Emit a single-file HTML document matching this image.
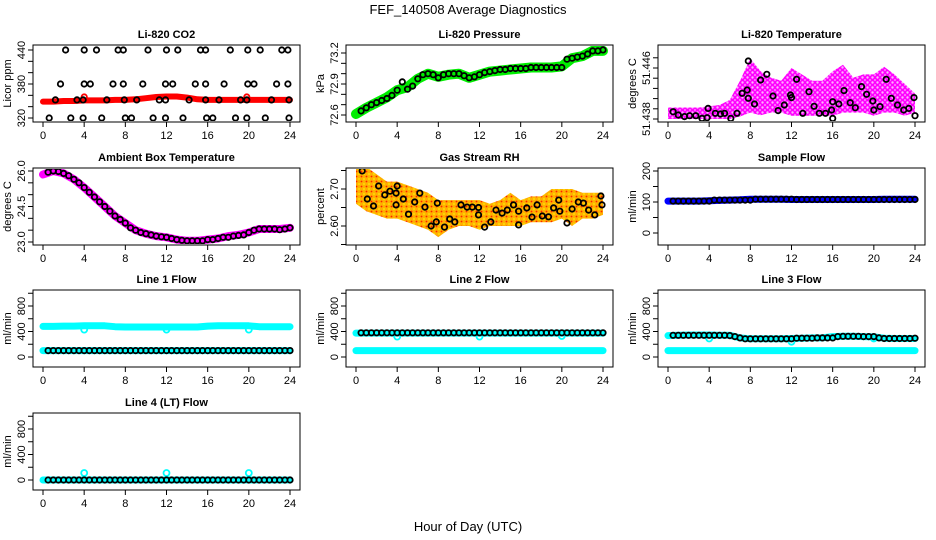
<!DOCTYPE html>
<html><head><meta charset="utf-8">
<style>
html,body{margin:0;padding:0;background:#fff;}
svg{display:block;font-family:"Liberation Sans",sans-serif;}
</style></head>
<body>
<svg id="fig" width="936" height="540" viewBox="0 0 936 540" xmlns="http://www.w3.org/2000/svg">
<defs>
<pattern id="magPat" width="5" height="5" patternUnits="userSpaceOnUse">
<rect width="5" height="5" fill="#ffb0ff"/>
<circle cx="2.5" cy="2.5" r="2" fill="none" stroke="#ff00ff" stroke-width="1.6"/>
</pattern>
<pattern id="rhPat" width="5" height="5" patternUnits="userSpaceOnUse">
<rect width="5" height="5" fill="#ffb000"/>
<circle cx="1.5" cy="1.5" r="0.9" fill="#ff2000"/>
<circle cx="4" cy="4" r="1" fill="#ffe000"/>
</pattern>
</defs>
<text x="468" y="14" text-anchor="middle" font-size="13">FEF_140508  Average Diagnostics</text>
<text x="468" y="531" text-anchor="middle" font-size="13">Hour of Day (UTC)</text>
</svg>
<script>
// ---------- shared data ----------
const xTicks = [0,4,8,12,16,20,24];
const hours = [0,1,2,3,4,5,6,7,8,9,10,11,12,13,14,15,16,17,18,19,20,21,22,23,24];
const halfHours = [0.5,1,1.5,2,2.5,3,3.5,4,4.5,5,5.5,6,6.5,7,7.5,8,8.5,9,9.5,10,10.5,11,11.5,12,12.5,13,13.5,14,14.5,15,15.5,16,16.5,17,17.5,18,18.5,19,19.5,20,20.5,21,21.5,22,22.5,23,23.5,24];

// CO2
const co2Band = [349,349,350,350,351,351,351,352,352,353,355,357,358,358,356,353,352,352,352,352,352,352,352,352,352];
const co2PtsT = [1.2,3.3,3.9,6.2,7.9,9.1,11.3,11.9,14.2,15.8,17.1,19.2,19.8,22.2,23.9, 2.2,4.0,5.2,7.3,7.8,10.2,12.0,13.1,15.3,15.8,18.2,19.9,21.1,23.2,23.8, 1.7,4.0,4.6,6.8,7.8,9.7,11.9,12.6,14.8,15.8,17.6,19.9,20.5,22.7,23.8, 0.6,2.7,3.9,5.7,8.0,8.6,10.7,11.9,13.6,15.9,16.5,18.7,19.8,21.6,23.9];
const co2PtsV = [352,352,352,352,352,352,352,352,352,352,352,352,352,352,352, 440,440,440,440,440,440,440,440,440,440,440,440,440,440,440, 380,380,380,380,380,380,380,380,380,380,380,380,380,380,380, 320,320,320,320,320,320,320,320,320,320,320,320,320,320,320];
const co2RedT = [4.0,19.8];
const co2RedV = [357,357];

// Pressure
const presBand = [72.61,72.67,72.72,72.77,72.84,72.87,72.95,73.0,72.97,72.99,73.0,72.96,72.99,73.02,73.03,73.04,73.05,73.06,73.06,73.06,73.07,73.15,73.17,73.22,73.22];
const presPts = [72.64,72.67,72.70,72.72,72.74,72.76,72.79,72.84,72.92,72.85,72.88,72.95,72.99,73.0,72.99,72.96,72.99,73.0,73.0,73.0,72.98,72.96,72.97,72.99,73.01,73.02,73.03,73.04,73.04,73.05,73.05,73.05,73.05,73.06,73.06,73.06,73.06,73.06,73.06,73.06,73.14,73.15,73.16,73.17,73.19,73.22,73.22,73.23];

// Temperature
const tempLow  = [51.4380,51.4380,51.4380,51.4380,51.4380,51.4380,51.4380,51.4384,51.4390,51.4386,51.4390,51.4390,51.4385,51.4385,51.4385,51.4385,51.4385,51.4390,51.4390,51.4390,51.4385,51.4390,51.4390,51.4385,51.4390];
const tempHigh = [51.4398,51.4398,51.4398,51.4398,51.4400,51.4402,51.4410,51.4440,51.4475,51.4455,51.4445,51.4440,51.4460,51.4450,51.4440,51.4440,51.4455,51.4465,51.4445,51.4450,51.4450,51.4462,51.4450,51.4435,51.4420];
const tempPtsT = [0.5,1.0,1.6,2.1,2.7,3.3,3.8,3.9,4.6,5.1,5.5,6.1,6.7,7.2,7.7,7.8,7.8,8.4,9.0,9.6,10.2,10.7,11.3,11.9,12.0,12.5,13.1,13.7,14.2,14.7,15.3,15.9,16.0,16.0,16.6,17.1,17.7,18.2,18.8,19.3,19.9,20.0,20.6,21.2,21.7,22.3,22.9,23.4,23.9,24.0];
const tempPtsV = [51.43915,51.43863,51.43837,51.43852,51.43852,51.43810,51.43821,51.43967,51.43889,51.43878,51.43889,51.43810,51.43889,51.44203,51.44255,51.44124,51.44710,51.44035,51.44412,51.44501,51.44161,51.43931,51.44020,51.44176,51.44135,51.44422,51.43889,51.44229,51.43999,51.43889,51.43889,51.43941,51.43810,51.44072,51.44035,51.44245,51.44056,51.43978,51.44308,51.44187,51.44082,51.43941,51.43994,51.44422,51.44124,51.44020,51.43941,51.43967,51.44135,51.43852];
const tempTicks = [51.438,51.4396,51.4412,51.4428,51.4444,51.446,51.4476];
const tempLabV = [51.438,51.446];
const tempLabS = ["51.438","51.446"];

// Ambient box temp
const ambBand = [25.85,26.0,25.9,25.65,25.3,24.9,24.5,24.1,23.8,23.5,23.35,23.25,23.2,23.1,23.05,23.05,23.1,23.15,23.25,23.3,23.4,23.55,23.55,23.55,23.6];
const ambPts = [25.95,26.0,25.98,25.9,25.8,25.65,25.5,25.3,25.1,24.9,24.7,24.5,24.3,24.1,23.95,23.8,23.6,23.5,23.4,23.35,23.3,23.25,23.22,23.2,23.15,23.1,23.07,23.05,23.05,23.05,23.05,23.1,23.1,23.15,23.2,23.2,23.25,23.28,23.3,23.4,23.5,23.55,23.55,23.55,23.55,23.52,23.55,23.6];

// Gas stream RH
const rhLow  = [2.66,2.64,2.63,2.62,2.62,2.61,2.60,2.59,2.57,2.59,2.60,2.60,2.59,2.60,2.60,2.60,2.60,2.61,2.61,2.61,2.62,2.60,2.62,2.62,2.63];
const rhHigh = [2.76,2.76,2.74,2.72,2.72,2.71,2.70,2.69,2.67,2.67,2.67,2.67,2.67,2.66,2.67,2.69,2.67,2.68,2.68,2.70,2.70,2.70,2.69,2.69,2.69];
const rhPtsT = [0.6,1.1,1.7,2.2,2.8,3.3,3.9,4.0,3.9,4.6,5.1,5.7,6.2,6.7,7.3,7.8,7.9,8.6,9.1,9.6,10.2,10.8,11.3,11.9,11.9,12.5,13.1,13.6,14.2,14.7,15.3,15.8,15.8,16.6,17.1,17.6,18.1,18.7,19.2,19.7,19.8,20.5,21.0,21.6,22.1,22.6,23.2,23.8,23.9];
const rhPtsV = [2.749,2.673,2.654,2.708,2.684,2.694,2.689,2.708,2.657,2.673,2.632,2.665,2.689,2.651,2.600,2.611,2.662,2.597,2.619,2.611,2.657,2.651,2.651,2.650,2.630,2.597,2.611,2.643,2.635,2.643,2.657,2.640,2.603,2.649,2.624,2.657,2.627,2.625,2.649,2.670,2.640,2.608,2.646,2.665,2.662,2.643,2.630,2.681,2.657];

// Sample flow
const sampBand = [103,103,103,103,104,105,106,107,109,109,109,109,108,108,108,108,108,108,108,108,108,109,109,109,109];
const sampPts = [103,103,103,103,103,103,103,103,106,106,106,106,106,106,106,106,109,109,109,109,109,109,109,109,108,108,108,108,108,108,108,108,108,108,108,108,108,108,108,108,108,108,108,108,108,108,108,108];

// Line flows
const l1Upper = [480,480,485,485,490,490,490,475,470,470,470,470,470,470,470,470,485,490,490,490,490,475,475,475,475];
const l1Lower = [100,100,100,100,100,100,100,100,100,100,100,100,100,100,100,100,100,100,100,100,100,100,100,100,100];
const l1Pts = [100,100,100,100,100,100,100,100,100,100,100,100,100,100,100,100,100,100,100,100,100,100,100,100,100,100,100,100,100,100,100,100,100,100,100,100,100,100,100,100,100,100,100,100,100,100,100,100];
const l1OutT = [4,12,20];
const l1OutV = [430,430,430];

const l2Upper = [375,375,375,375,375,375,375,375,375,375,375,375,375,375,375,375,375,375,375,375,375,375,375,375,375];
const l2Lower = [100,100,100,100,100,100,100,100,100,100,100,100,100,100,100,100,100,100,100,100,100,100,100,100,100];
const l2Pts = [380,380,380,380,380,380,380,380,380,380,380,380,380,380,380,380,380,380,380,380,380,380,380,380,380,380,380,380,380,380,380,380,380,380,380,380,380,380,380,380,380,380,380,380,380,380,380,380];
const l2OutT = [4,12,20];
const l2OutV = [320,320,330];

const l3Upper = [335,340,345,345,345,340,340,300,285,285,285,285,290,295,300,300,320,325,325,320,315,295,290,290,290];
const l3Lower = [100,100,100,100,100,100,100,100,100,100,100,100,100,100,100,100,100,100,100,100,100,100,100,100,100];
const l3Pts = [340,340,340,340,340,340,340,340,340,340,340,335,320,300,285,285,285,285,285,285,285,285,285,285,295,295,295,295,300,300,300,300,320,325,325,325,325,320,320,320,300,290,290,290,290,290,290,295];
const l3OutT = [4,12,20];
const l3OutV = [290,240,290];

const l4Upper = [0,0,0,0,0,0,0,0,0,0,0,0,0,0,0,0,0,0,0,0,0,0,0,0,0];
const l4Pts = [0,0,0,0,0,0,0,0,0,0,0,0,0,0,0,0,0,0,0,0,0,0,0,0,0,0,0,0,0,0,0,0,0,0,0,0,0,0,0,0,0,0,0,0,0,0,0,0];
const l4OutT = [4,12,20];
const l4OutV = [110,110,110];

const lineTicks = [0,200,400,600,800,1000];
const lineLabV = [0,400,800];

// ---------- drawing helpers ----------
const NS = "http://www.w3.org/2000/svg";
const svg = document.getElementById("fig");
const colLeft = [33,346,658];
const rowTop = [45,168,290,413];
const BW = 267, BH = 77;

function mk(tag, attrs, parent){
  const e = document.createElementNS(NS, tag);
  for (const k in attrs) e.setAttribute(k, attrs[k]);
  (parent||svg).appendChild(e);
  return e;
}

function makePanel(cfg){
  const L = colLeft[cfg.col], T = rowTop[cfg.row];
  const g = mk("g", {});
  
  
  const xs = h => L + 10 + h * (247/24);
  const ys = v => T + cfg.yp0 + (v - cfg.yv0) * (cfg.yp1 - cfg.yp0) / (cfg.yv1 - cfg.yv0);
  const t = mk("text", {x: L + BW/2, y: T - 7, "text-anchor":"middle", "font-size":"11", "font-weight":"bold"}, g);
  t.textContent = cfg.title;
  
  
  const box = mk("rect", {x:L, y:T, width:BW, height:BH, fill:"none", stroke:"#000", "stroke-width":"1"}, g);
  
  
  const xa = mk("g", {}, g);
  
  
  mk("line", {x1:xs(xTicks[0]), x2:xs(xTicks[xTicks.length-1]), y1:T+BH, y2:T+BH, stroke:"#000"}, xa);
  xTicks.forEach(h => {
    mk("line", {x1:xs(h), x2:xs(h), y1:T+BH, y2:T+BH+5, stroke:"#000"}, xa);
    const tl = mk("text", {x:xs(h), y:T+BH+17, "text-anchor":"middle", "font-size":"11"}, xa);
    tl.textContent = h;
    
    
  });
  const ya = mk("g", {}, g);
  
  
  const tk = cfg.ticks;
  mk("line", {x1:L, x2:L, y1:ys(tk[0]), y2:ys(tk[tk.length-1]), stroke:"#000"}, ya);
  tk.forEach(v => mk("line", {x1:L-5, x2:L, y1:ys(v), y2:ys(v), stroke:"#000"}, ya));
  cfg.labV.forEach((v,i) => {
    const yy = ys(v);
    const tl = mk("text", {x:L-8, y:yy, "text-anchor":"middle", "font-size":"11", transform:`rotate(-90 ${L-8} ${yy})`}, ya);
    tl.textContent = cfg.labS ? cfg.labS[i] : String(v);
    
    
  });
  const yt = mk("text", {x:L-22, y:T+BH/2, "text-anchor":"middle", "font-size":"11", transform:`rotate(-90 ${L-22} ${T+BH/2})`}, g);
  yt.textContent = cfg.ylab;
  
  
  const cid = "clip-" + cfg.name;
  const cp = mk("clipPath", {id:cid}, g);
  mk("rect", {x:L+1, y:T+1, width:BW-2, height:BH-2}, cp);
  const plot = mk("g", {"clip-path":`url(#${cid})`}, g);
  
  
  return {g:plot, xs, ys};
}

function band(p, xsArr, vals, color, w, name){
  const pts = xsArr.map((h,i) => p.xs(h).toFixed(1) + "," + p.ys(vals[i]).toFixed(1)).join(" ");
  const pl = mk("polyline", {points:pts, fill:"none", stroke:color, "stroke-width":w, "stroke-linejoin":"round", "stroke-linecap":"round"}, p.g);
  
  
}
function area(p, xsArr, lo, hi, fill, name){
  const up = xsArr.map((h,i) => p.xs(h).toFixed(1) + "," + p.ys(hi[i]).toFixed(1));
  const dn = xsArr.map((h,i) => p.xs(h).toFixed(1) + "," + p.ys(lo[i]).toFixed(1)).reverse();
  const pg = mk("polygon", {points: up.concat(dn).join(" "), fill:fill, stroke:"none"}, p.g);
  
  
}
function points(p, ts, vs, color, name, r){
  ts.forEach((h,i) => {
    const c = mk("circle", {cx:p.xs(h).toFixed(1), cy:p.ys(vs[i]).toFixed(1), r:r||2.7, fill:"none", stroke:color, "stroke-width":"1.8"}, p.g);
    
    
  });
}

// ---------- panels ----------
let p;
p = makePanel({name:"co2", col:0, row:0, title:"Li-820 CO2", ylab:"Licor ppm", yv0:440, yp0:5, yv1:320, yp1:73, ticks:[320,340,360,380,400,420,440], labV:[320,380,440]});
band(p, hours, co2Band, "#ff0000", 6, "co2-series-red");
points(p, co2RedT, co2RedV, "#ff0000", "co2-red-point");
points(p, co2PtsT, co2PtsV, "#000", "co2-point");

p = makePanel({name:"pressure", col:1, row:0, title:"Li-820 Pressure", ylab:"kPa", yv0:73.2, yp0:8, yv1:72.6, yp1:70, ticks:[72.6,72.7,72.8,72.9,73.0,73.1,73.2], labV:[72.6,72.9,73.2]});
band(p, hours, presBand, "#00ee00", 10, "pressure-series-green");
points(p, halfHours, presPts, "#000", "pressure-point");

p = makePanel({name:"li820-temp", col:2, row:0, title:"Li-820 Temperature", ylab:"degrees C", yv0:51.438, yp0:74, yv1:51.446, yp1:23, ticks:tempTicks, labV:tempLabV, labS:tempLabS});
area(p, hours, tempLow, tempHigh, "url(#magPat)", "li820-temp-cloud");
points(p, tempPtsT, tempPtsV, "#000", "li820-temp-point");

p = makePanel({name:"ambient", col:0, row:1, title:"Ambient Box Temperature", ylab:"degrees C", yv0:26, yp0:3, yv1:23, yp1:74, ticks:[23,23.5,24,24.5,25,25.5,26], labV:[23,24.5,26], labS:["23.0","24.5","26.0"]});
band(p, hours, ambBand, "#ff00ff", 8, "ambient-series-magenta");
points(p, halfHours, ambPts, "#000", "ambient-point");

p = makePanel({name:"rh", col:1, row:1, title:"Gas Stream RH", ylab:"percent", yv0:2.70, yp0:21, yv1:2.60, yp1:58, ticks:[2.55,2.60,2.65,2.70,2.75], labV:[2.60,2.70], labS:["2.60","2.70"]});
area(p, hours, rhLow, rhHigh, "url(#rhPat)", "rh-cloud");
points(p, rhPtsT, rhPtsV, "#000", "rh-point");

p = makePanel({name:"sample-flow", col:2, row:1, title:"Sample Flow", ylab:"ml/min", yv0:0, yp0:65, yv1:200, yp1:3, ticks:[0,50,100,150,200], labV:[0,100,200]});
band(p, hours, sampBand, "#0000ff", 7, "sample-flow-series-blue");
points(p, halfHours, sampPts, "#000", "sample-flow-point");

const lineCfgs = [
  {name:"line1-flow", col:0, row:2, title:"Line 1 Flow", up:l1Upper, lo:l1Lower, pts:l1Pts, ot:l1OutT, ov:l1OutV},
  {name:"line2-flow", col:1, row:2, title:"Line 2 Flow", up:l2Upper, lo:l2Lower, pts:l2Pts, ot:l2OutT, ov:l2OutV},
  {name:"line3-flow", col:2, row:2, title:"Line 3 Flow", up:l3Upper, lo:l3Lower, pts:l3Pts, ot:l3OutT, ov:l3OutV},
  {name:"line4-flow", col:0, row:3, title:"Line 4 (LT) Flow", up:l4Upper, lo:null, pts:l4Pts, ot:l4OutT, ov:l4OutV}
];
lineCfgs.forEach(c => {
  const q = makePanel({name:c.name, col:c.col, row:c.row, title:c.title, ylab:"ml/min", yv0:0, yp0:67, yv1:800, yp1:16, ticks:lineTicks, labV:lineLabV});
  band(q, hours, c.up, "#00ffff", 7, c.name + "-series-cyan");
  if (c.lo) band(q, hours, c.lo, "#00ffff", 7, c.name + "-series-cyan-low");
  points(q, c.ot, c.ov, "#00ffff", c.name + "-cyan-point", 3);
  points(q, halfHours, c.pts, "#000", c.name + "-point");
});
</script>
</body></html>
